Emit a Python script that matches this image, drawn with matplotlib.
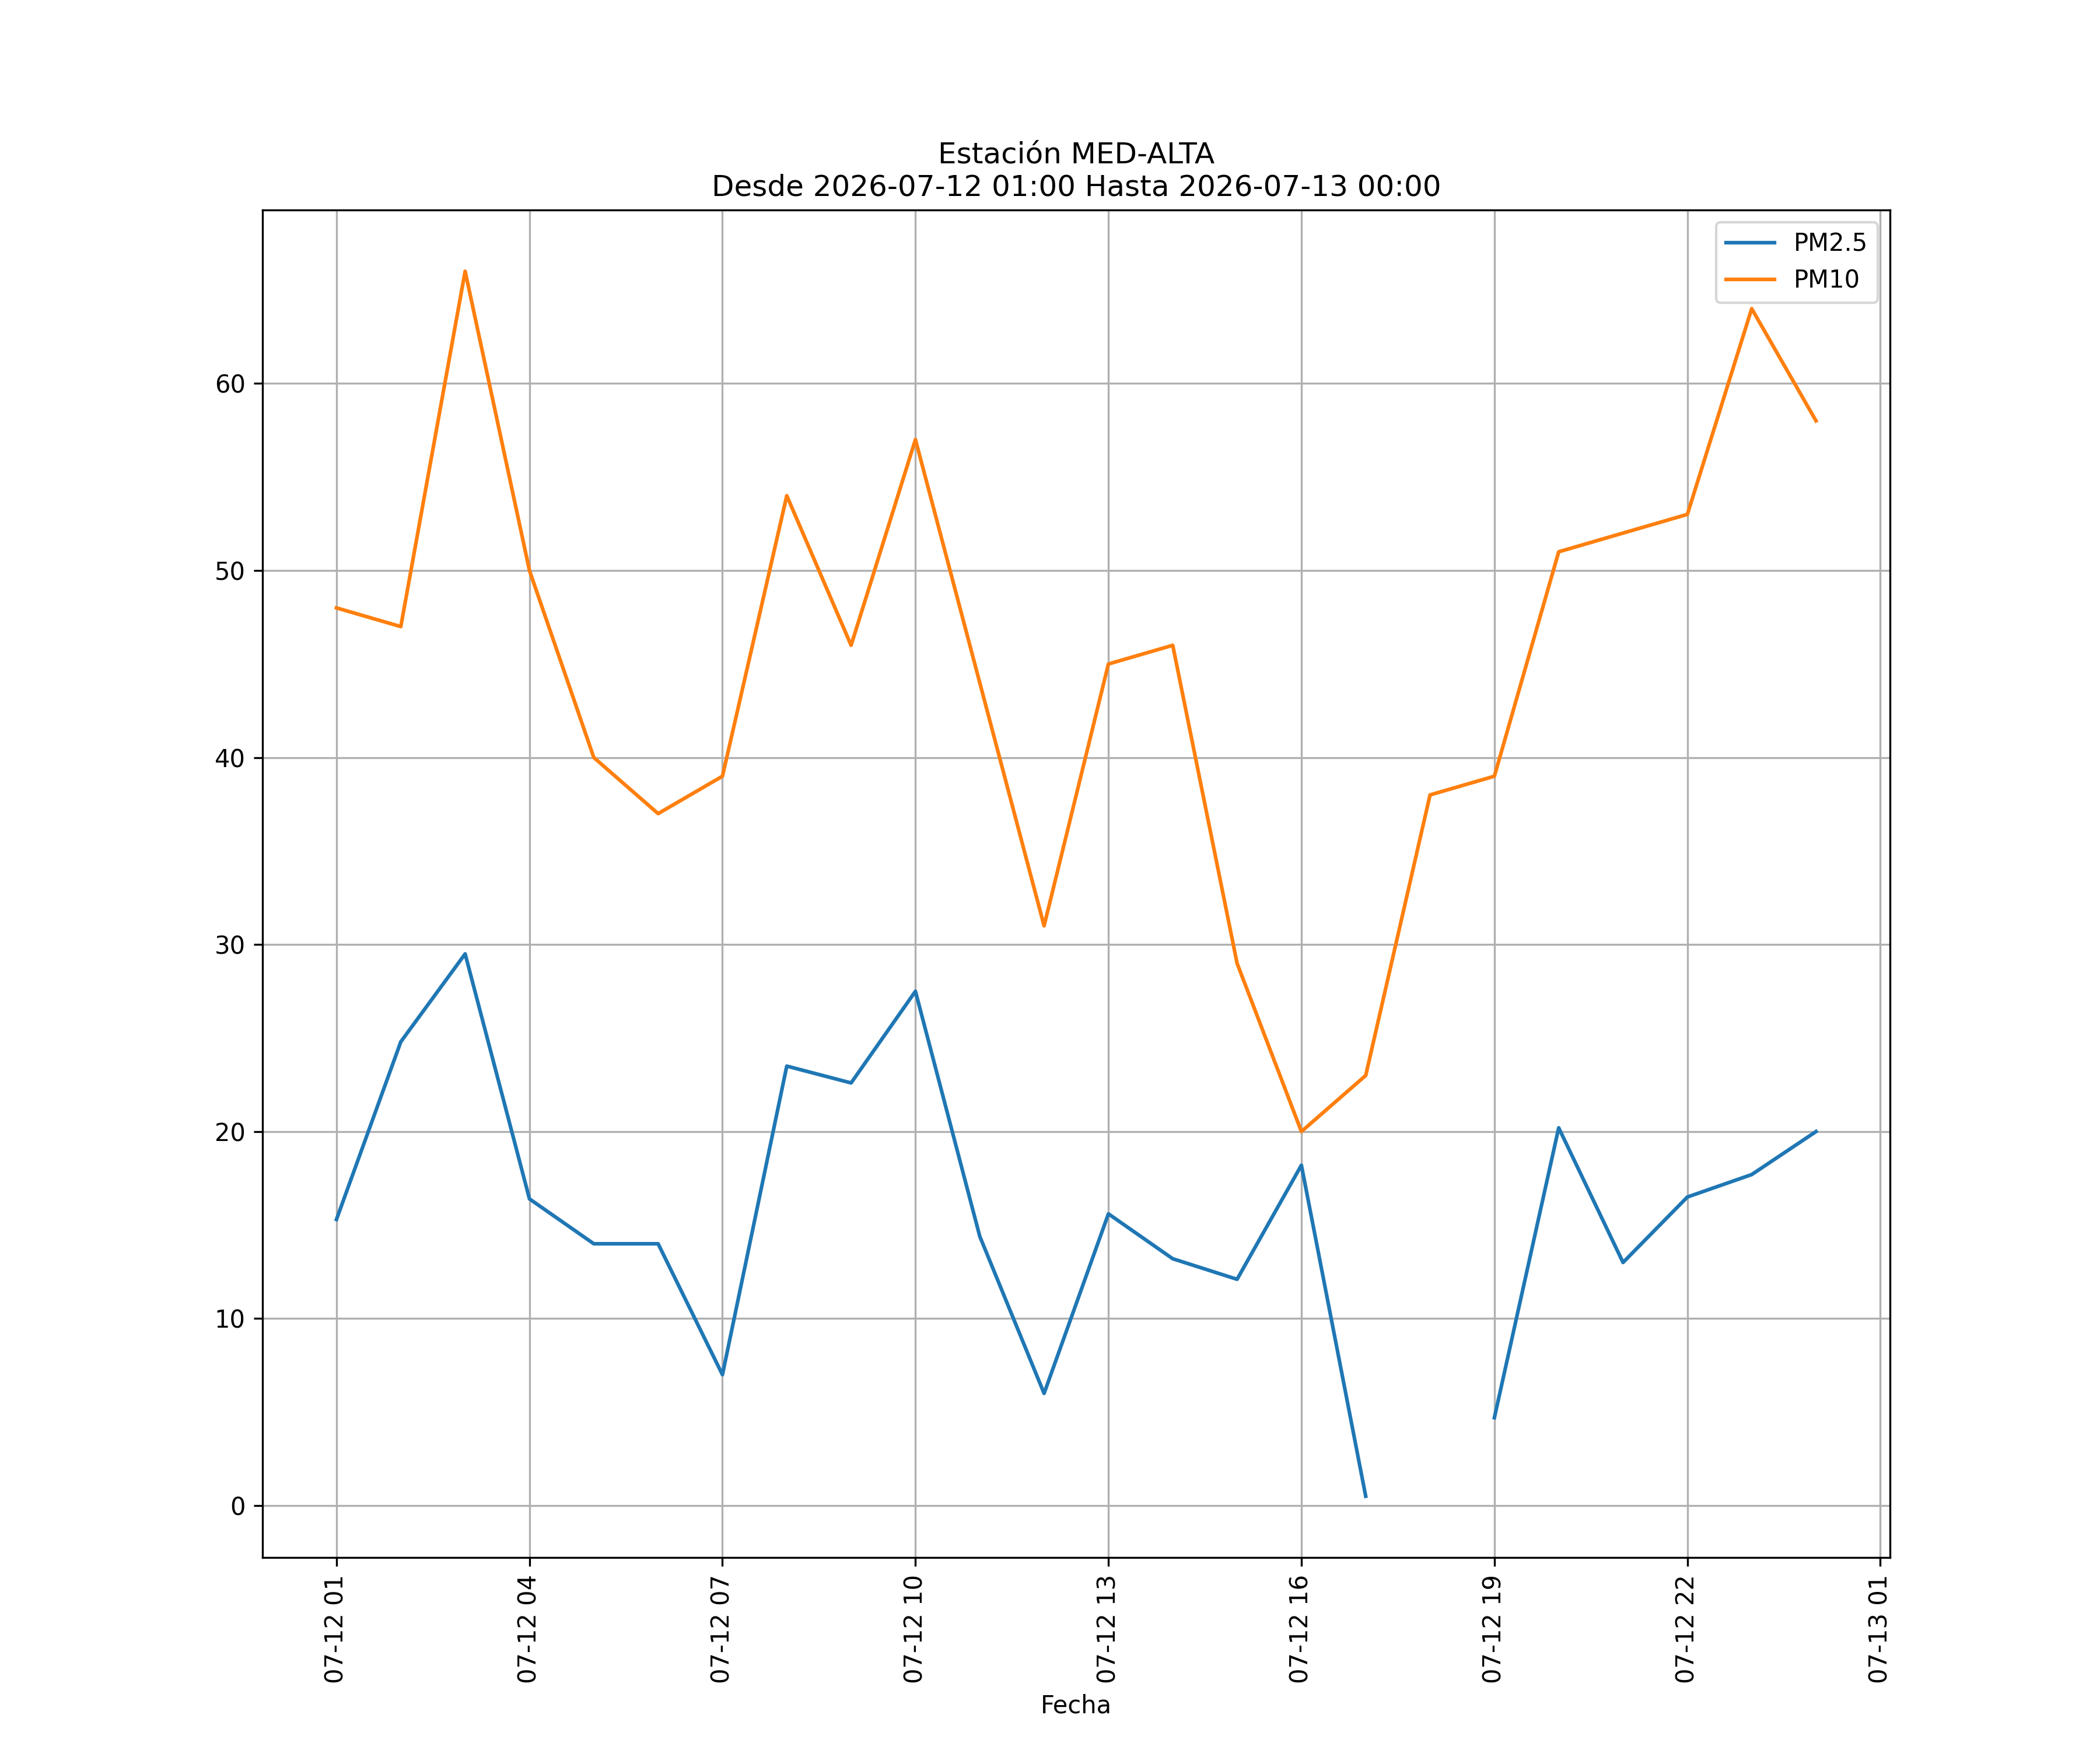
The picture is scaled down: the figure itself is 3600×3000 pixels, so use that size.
import matplotlib
matplotlib.use("Agg")
import matplotlib.pyplot as plt
import matplotlib.dates as mdates
import numpy as np
import pandas as pd

times = pd.date_range("2026-07-12 01:00", "2026-07-13 00:00", freq="h")
pm25 = [15.3, 24.8, 29.5, 16.4, 14.0, 14.0, 7.0, 23.5, 22.6, 27.5, 14.4, 6.0,
        15.6, 13.2, 12.1, 18.2, 0.5, np.nan, 4.7, 20.2, 13.0, 16.5, 17.7, 20.0]
pm10 = [48, 47, 66, 50, 40, 37, 39, 54, 46, 57, 44, 31,
        45, 46, 29, 20, 23, 38, 39, 51, 52, 53, 64, 58]

fig, ax = plt.subplots(figsize=(12, 10), dpi=300)
ax.plot(times, pm25, label="PM2.5")
ax.plot(times, pm10, label="PM10")
ax.set_title("Estación MED-ALTA\nDesde 2026-07-12 01:00 Hasta 2026-07-13 00:00")
ax.set_xlabel("Fecha")
ax.xaxis.set_major_locator(mdates.HourLocator(byhour=range(1, 24, 3)))
ax.xaxis.set_major_formatter(mdates.DateFormatter("%m-%d %H"))
plt.setp(ax.get_xticklabels(), rotation=90)
ax.grid(True)
ax.legend(loc="upper right")
fig.savefig("out.png", dpi=300)
